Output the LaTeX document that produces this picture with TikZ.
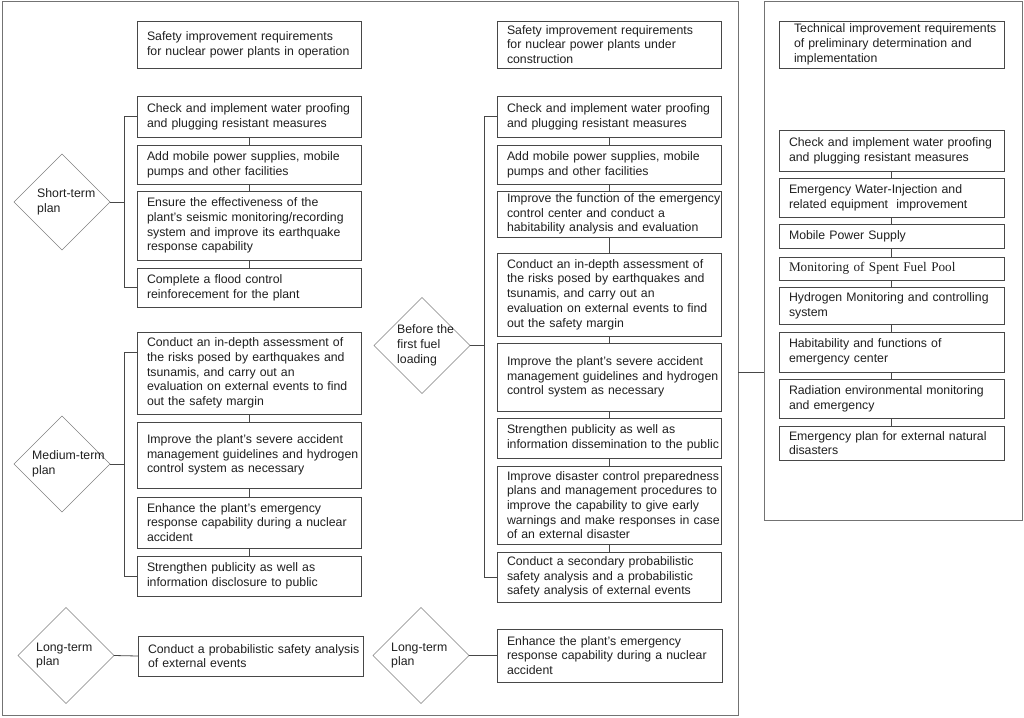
\documentclass[tikz,border=0pt]{standalone}
\usepackage{fontspec}
\setmainfont{Liberation Sans}
\newfontfamily\timesfont{Liberation Serif}
\usepackage{xcolor}
\colorlet{colBox}{black!72}
\colorlet{colDia}{black!50}
\colorlet{colFrame}{black!55}
\colorlet{colText}{black!88}
\usepackage{tikz}
\usetikzlibrary{shapes.geometric}

\begin{document}
\begin{tikzpicture}[x=1pt, y=-1pt,
		font=\fontsize{12.3}{14.7}\selectfont, text=colText,
		pbox/.style={draw=colBox, line width=0.9pt, inner xsep=0pt, inner ysep=0pt, outer sep=0pt,
			text width=#1, align=left, execute at begin node={\leftskip=10pt}},
		pbox/.default=224pt,
		plan/.style={draw=colDia, line width=0.6pt, diamond, minimum width=96pt, minimum height=96pt,
			inner sep=0pt, outer sep=0pt},
		ptext/.style={anchor=west, align=left, inner sep=0pt},
		conn/.style={draw=colBox, line width=0.8pt},
		frame/.style={draw=colFrame, line width=1pt, inner sep=0pt, outer sep=0pt}]
	\useasboundingbox (0,0) rectangle (1024,717);
	\node[frame, minimum width=736pt, minimum height=713pt] (fA) at (370,358.5) {};
	\node[frame, minimum width=258pt, minimum height=518pt] (fB) at (893,261) {};

	% plants in operation
	\node[pbox, minimum height=47pt] (lt) at (249,44.5) {Safety improvement requirements\\for nuclear power plants in operation};
	\node[pbox, minimum height=41pt] (ls1) at (249,116.5) {Check and implement water proofing\\and plugging resistant measures};
	\node[pbox, minimum height=39pt] (ls2) at (249,164.5) {Add mobile power supplies, mobile\\pumps and other facilities};
	\node[pbox, minimum height=69pt] (ls3) at (249,225.5) {Ensure the effectiveness of the\\plant's seismic monitoring/recording\\system and improve its earthquake\\response capability};
	\node[pbox, minimum height=39pt] (ls4) at (249,287.5) {Complete a flood control\\reinforecement for the plant};
	\node[pbox, minimum height=82pt] (lm1) at (249,373) {Conduct an in-depth assessment of\\the risks posed by earthquakes and\\tsunamis, and carry out an\\evaluation on external events to find\\out the safety margin};
	\node[pbox, minimum height=66pt] (lm2) at (249,455) {Improve the plant's severe accident\\management guidelines and hydrogen\\control system as necessary};
	\node[pbox, minimum height=51pt] (lm3) at (249,522.5) {Enhance the plant's emergency\\response capability during a nuclear\\accident};
	\node[pbox, minimum height=40pt] (lm4) at (249,576) {Strengthen publicity as well as\\information disclosure to public};
	\node[pbox=225pt, minimum height=40pt] (ll1) at (250.5,656) {Conduct a probabilistic safety analysis\\of external events};

	\node[plan] (dS) at (62,202) {};
	\node[ptext] (dSt) at ([xshift=-25pt]dS.center) {Short-term\\plan};
	\node[plan] (dM) at (62,464) {};
	\node[ptext] (dMt) at ([xshift=-30pt]dM.center) {Medium-term\\plan};
	\node[plan] (dL) at (66,655.5) {};
	\node[ptext] (dLt) at ([xshift=-30pt]dL.center) {Long-term\\plan};

	% plants under construction
	\node[pbox, minimum height=47pt] (mt) at (609,44.5) {Safety improvement requirements\\for nuclear power plants under\\construction};
	\node[pbox, minimum height=41pt] (mb1) at (609,116.5) {Check and implement water proofing\\and plugging resistant measures};
	\node[pbox, minimum height=39pt] (mb2) at (609,164.5) {Add mobile power supplies, mobile\\pumps and other facilities};
	\node[pbox, minimum height=46pt] (mb3) at (609,214) {Improve the function of the emergency\\control center and conduct a\\habitability analysis and evaluation};
	\node[pbox, minimum height=83pt] (mb4) at (609,294.5) {Conduct an in-depth assessment of\\the risks posed by earthquakes and\\tsunamis, and carry out an\\evaluation on external events to find\\out the safety margin};
	\node[pbox, minimum height=68pt] (mb5) at (609,377) {Improve the plant's severe accident\\management guidelines and hydrogen\\control system as necessary};
	\node[pbox, minimum height=40pt] (mb6) at (609,438) {Strengthen publicity as well as\\information dissemination to the public};
	\node[pbox, minimum height=78pt] (mb7) at (609,505) {Improve disaster control preparedness\\plans and management procedures to\\improve the capability to give early\\warnings and make responses in case\\of an external disaster};
	\node[pbox, minimum height=50pt] (mb8) at (609,577) {Conduct a secondary probabilistic\\safety analysis and a probabilistic\\safety analysis of external events};
	\node[pbox=225pt, minimum height=53pt] (ml1) at (609.5,655.5) {Enhance the plant's emergency\\response capability during a nuclear\\accident};

	\node[plan] (dB) at (422,345.5) {};
	\node[ptext] (dBt) at ([xshift=-25pt]dB.center) {Before the\\first fuel\\loading};
	\node[plan] (dN) at (421,655.5) {};
	\node[ptext] (dNt) at ([xshift=-30pt]dN.center) {Long-term\\plan};

	% technical requirements
	\node[pbox=225pt, minimum height=47pt, execute at begin node={\leftskip=15pt}] (rt) at (891.5,44.5) {Technical improvement requirements\\of preliminary determination and\\implementation};
	\node[pbox=225pt, minimum height=41pt] (r1) at (891.5,150.5) {Check and implement water proofing\\and plugging resistant measures};
	\node[pbox=225pt, minimum height=39pt] (r2) at (891.5,197.5) {Emergency Water-Injection and\\related equipment\ \ improvement};
	\node[pbox=225pt, minimum height=24pt] (r3) at (891.5,236) {Mobile Power Supply};
	\node[pbox=225pt, minimum height=23pt, font=\timesfont\fontsize{13.2}{15}\selectfont] (r4) at (891.5,268.5) {Monitoring of Spent Fuel Pool};
	\node[pbox=225pt, minimum height=37pt] (r5) at (891.5,305.5) {Hydrogen Monitoring and controlling\\system};
	\node[pbox=225pt, minimum height=40pt] (r6) at (891.5,352) {Habitability and functions of\\emergency center};
	\node[pbox=225pt, minimum height=39pt] (r7) at (891.5,398.5) {Radiation environmental monitoring\\and emergency};
	\node[pbox=225pt, minimum height=34pt] (r8) at (891.5,443) {Emergency plan for external natural\\disasters};

	\foreach \a/\b in {ls1/ls2, ls2/ls3, ls3/ls4, lm1/lm2, lm2/lm3, lm3/lm4,
			mb1/mb2, mb2/mb3, mb3/mb4, mb4/mb5, mb5/mb6, mb6/mb7, mb7/mb8,
			r1/r2, r2/r3, r3/r4, r4/r5, r5/r6, r6/r7, r7/r8}
		\draw[conn] (\a.south) -- (\b.north);

	\draw[conn] (ls1.west) -- ++(-13,0) coordinate (bS) |- (ls4.west);
	\draw[conn] (dS.east) -- (dS.east -| bS);
	\draw[conn] ([yshift=21pt]lm1.west) -- ++(-13,0) coordinate (bM) |- (lm4.west);
	\draw[conn] (dM.east) -- (dM.east -| bM);
	\draw[conn] (dL.east) -- (ll1.west);
	\draw[conn] (mb1.west) -- ++(-13,0) coordinate (bB) |- (mb8.west);
	\draw[conn] (dB.east) -- (dB.east -| bB);
	\draw[conn] (dN.east) -- (ml1.west);

	\coordinate (jn) at (751,372);
	\draw[conn] (fA.east |- jn) -- (fB.west |- jn);
\end{tikzpicture}
\end{document}
